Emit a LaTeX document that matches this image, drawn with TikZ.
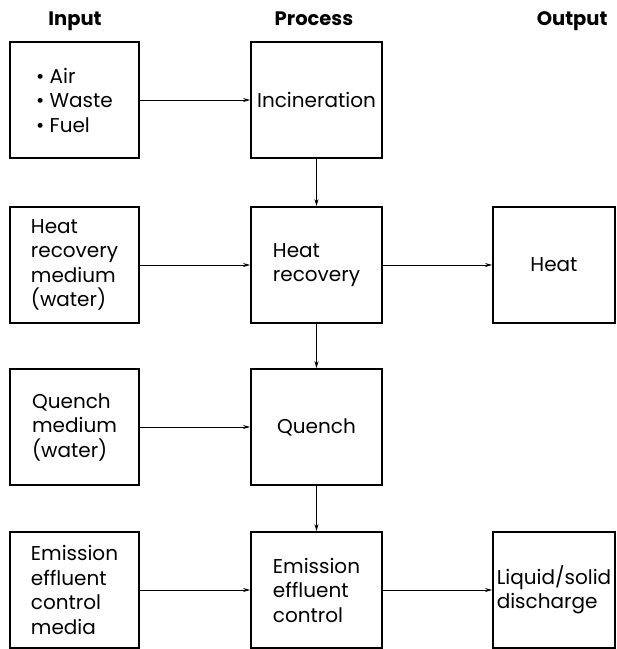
\documentclass[tikz,border=0pt]{standalone}
\usepackage{fontspec}
\setmainfont{Poppins}
\usetikzlibrary{arrows.meta}

\begin{document}
\begin{tikzpicture}[x=1pt,y=-1pt, every node/.style={font=\fontsize{20}{24.5}\selectfont},
    blk/.style={draw, rectangle, line width=1.8pt, align=left, minimum height=116pt, inner sep=0pt},
    hdr/.style={font=\bfseries\fontsize{19.5}{24}\selectfont, anchor=base},
    link/.style={-{Stealth[length=7pt,width=4pt]}, line width=0.8pt}]
    \useasboundingbox (0,0) rectangle (617,649);
    % column heads
    \node[hdr] (hin) at (75,25) {Input};
    \node[hdr] (hproc) at (314,25) {Process};
    \node[hdr, anchor=base east] (hout) at (611,25) {Output};
    % input column
    \node[blk, minimum width=129pt] (feed) at (74.5,100) {\textbullet\ Air\\\textbullet\ Waste\\\textbullet\ Fuel};
    \node[blk, minimum width=129pt] (hrmed) at (74.5,265) {Heat\\recovery\\medium\\(water)};
    \node[blk, minimum width=129pt] (qmed) at (74.5,427) {Quench\\medium\\(water)};
    \node[blk, minimum width=129pt] (ecmed) at (74.5,590) {Emission\\effluent\\control\\media};
    % process column
    \node[blk, minimum width=131pt] (inc) at (316.5,100) {Incineration};
    \node[blk, minimum width=131pt] (hrec) at (316.5,265) {Heat\\recovery};
    \node[blk, minimum width=131pt] (quench) at (316.5,427) {Quench};
    \node[blk, minimum width=131pt] (ectl) at (316.5,590) {Emission\\effluent\\control};
    % output column
    \node[blk, minimum width=122pt] (heat) at (554,265) {Heat};
    \node[blk, minimum width=122pt] (disch) at (554,590) {Liquid/solid\\discharge};
    % flows
    \draw[link] (feed) -- (inc);
    \draw[link] (hrmed) -- (hrec);
    \draw[link] (qmed) -- (quench);
    \draw[link] (ecmed) -- (ectl);
    \draw[link] (inc) -- (hrec);
    \draw[link] (hrec) -- (quench);
    \draw[link] (quench) -- (ectl);
    \draw[link] (hrec) -- (heat);
    \draw[link] (ectl) -- (disch);
\end{tikzpicture}
\end{document}
